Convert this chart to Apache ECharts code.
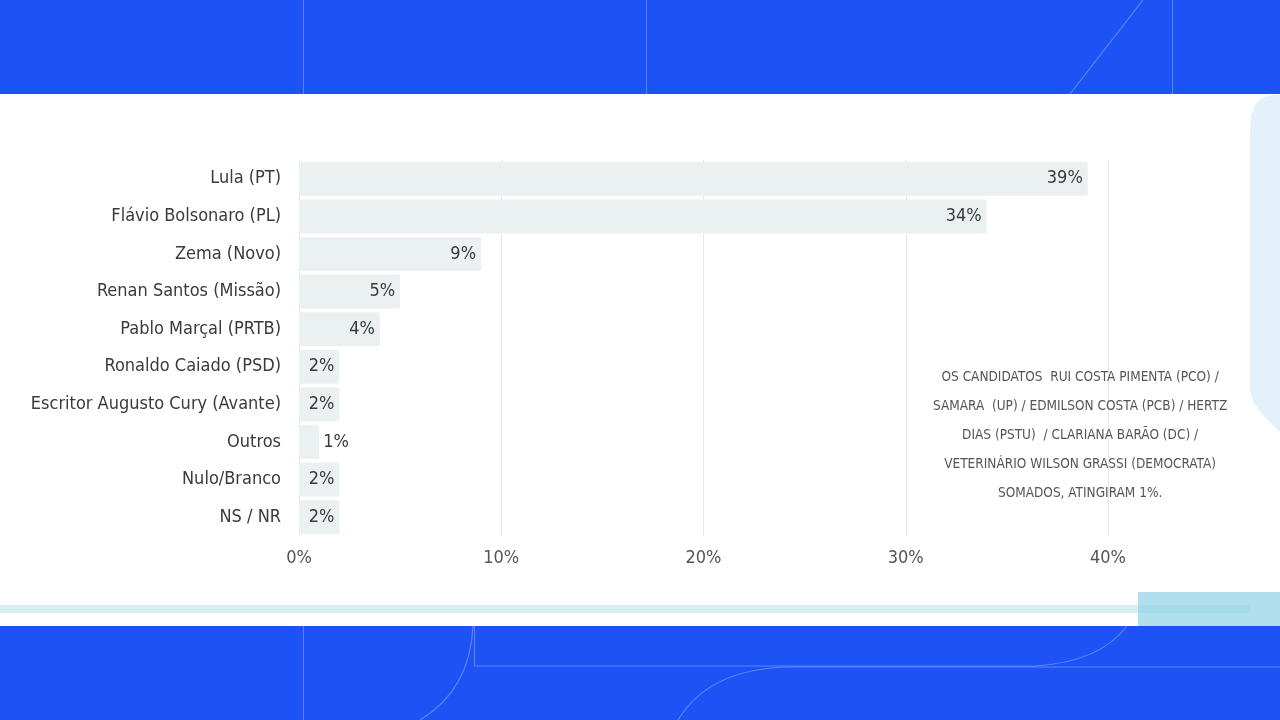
<!DOCTYPE html>
<html><head><meta charset="utf-8">
<script src="https://cdn.jsdelivr.net/npm/echarts@6/dist/echarts.min.js"></script>
<style>html,body{margin:0;padding:0;background:#fff}#c{width:1280px;height:720px}</style>
</head><body><div id="c"></div>
<script>
const categories = ['Lula (PT)','Flávio Bolsonaro (PL)','Zema (Novo)','Renan Santos (Missão)','Pablo Marçal (PRTB)','Ronaldo Caiado (PSD)','Escritor Augusto Cury (Avante)','Outros','Nulo/Branco','NS / NR'];
const values = [39,34,9,5,4,2,2,1,2,2];
const xTicks = [0,10,20,30,40];
const note = 'OS CANDIDATOS  RUI COSTA PIMENTA (PCO) /\nSAMARA  (UP) / EDMILSON COSTA (PCB) / HERTZ\nDIAS (PSTU)  / CLARIANA BARÃO (DC) /\nVETERINÁRIO WILSON GRASSI (DEMOCRATA)\nSOMADOS, ATINGIRAM 1%.';

const FAM = '"DejaVu Sans"';
const FW = 'condensed';
const BLUE = '#1d53f5';
const LINE = 'rgba(255,255,255,0.28)';
const chart = echarts.init(document.getElementById('c'));
chart.setOption({
  backgroundColor: '#ffffff',
  animation: false,
  grid: {left: 299, right: 172, top: 160, height: 376, containLabel: false},
  xAxis: {
    type: 'value', min: 0, max: 40, interval: 10,
    axisLine: {show: false}, axisTick: {show: false},
    splitLine: {lineStyle: {color: '#e8e8e8', width: 1}},
    axisLabel: {formatter: v => xTicks.includes(v) ? v + '%' : '', color: '#555', fontFamily: FAM, fontWeight: FW, fontSize: 18, margin: 13}
  },
  yAxis: {
    type: 'category', data: categories, inverse: true,
    axisLine: {show: false}, axisTick: {show: false},
    axisLabel: {color: '#3a3a3a', fontFamily: FAM, fontWeight: FW, fontSize: 18, margin: 18}
  },
  series: [{
    type: 'bar', barWidth: 34,
    data: values.map(v => ({value: v, label: {position: v < 2 ? 'right' : 'insideRight', distance: v < 2 ? 4 : 5}})),
    itemStyle: {color: '#ebf0f1', borderRadius: 2},
    label: {show: true, formatter: '{c}%', color: '#3a3a3a', fontFamily: FAM, fontWeight: FW, fontSize: 18}
  }],
  graphic: [
    {type: 'rect', z: -10, shape: {x: 0, y: 0, width: 1280, height: 94}, style: {fill: BLUE}},
    {type: 'rect', z: -10, shape: {x: 0, y: 626, width: 1280, height: 94}, style: {fill: BLUE}},
    {type: 'line', z: -9, shape: {x1: 303.5, y1: 0, x2: 303.5, y2: 94}, style: {stroke: LINE, lineWidth: 1}},
    {type: 'line', z: -9, shape: {x1: 646.5, y1: 0, x2: 646.5, y2: 94}, style: {stroke: LINE, lineWidth: 1}},
    {type: 'line', z: -9, shape: {x1: 1172.5, y1: 0, x2: 1172.5, y2: 94}, style: {stroke: LINE, lineWidth: 1}},
    {type: 'line', z: -9, shape: {x1: 1143, y1: 0, x2: 1070, y2: 94}, style: {stroke: LINE, lineWidth: 1.2}},
    {type: 'line', z: -9, shape: {x1: 0, y1: 94.5, x2: 1280, y2: 94.5}, style: {stroke: 'rgba(255,255,255,0.5)', lineWidth: 1}},
    {type: 'line', z: -9, shape: {x1: 303.5, y1: 626, x2: 303.5, y2: 720}, style: {stroke: LINE, lineWidth: 1}},
    {type: 'bezierCurve', z: -9, shape: {x1: 473, y1: 626, cpx1: 470, cpy1: 690, x2: 420, y2: 720}, style: {fill: 'none', stroke: LINE, lineWidth: 1.2}},
    {type: 'polyline', z: -9, shape: {points: [[474.5,626],[474.5,666],[1035,666]]}, style: {fill: 'none', stroke: LINE, lineWidth: 1.2}},
    {type: 'bezierCurve', z: -9, shape: {x1: 1035, y1: 666, cpx1: 1100, cpy1: 662, x2: 1127, y2: 626}, style: {fill: 'none', stroke: LINE, lineWidth: 1.2}},
    {type: 'bezierCurve', z: -9, shape: {x1: 678, y1: 720, cpx1: 710, cpy1: 668, x2: 790, y2: 667}, style: {fill: 'none', stroke: LINE, lineWidth: 1.2}},
    {type: 'line', z: -9, shape: {x1: 790, y1: 667, x2: 1280, y2: 667}, style: {stroke: LINE, lineWidth: 1.2}},
    {type: 'polygon', z: -9, shape: {points: [[1280,95],[1272,95],[1262,98],[1255,105],[1251,115],[1250,130],[1250,390],[1253,402],[1262,414],[1280,432]]}, style: {fill: '#e3f2fa'}},
    {type: 'rect', z: -8, shape: {x: 0, y: 605, width: 1250, height: 8}, style: {fill: '#d6eef6'}},
    {type: 'rect', z: -7, shape: {x: 1138, y: 592, width: 142, height: 34}, style: {fill: 'rgba(150,212,232,0.75)'}},
    {type: 'text', z: 5, left: 933, top: 363, style: {
      text: note, x: 150, textAlign: 'center', fill: '#555', font: 'condensed 13.5px "DejaVu Sans"', lineHeight: 29
    }}
  ]
});
</script></body></html>
